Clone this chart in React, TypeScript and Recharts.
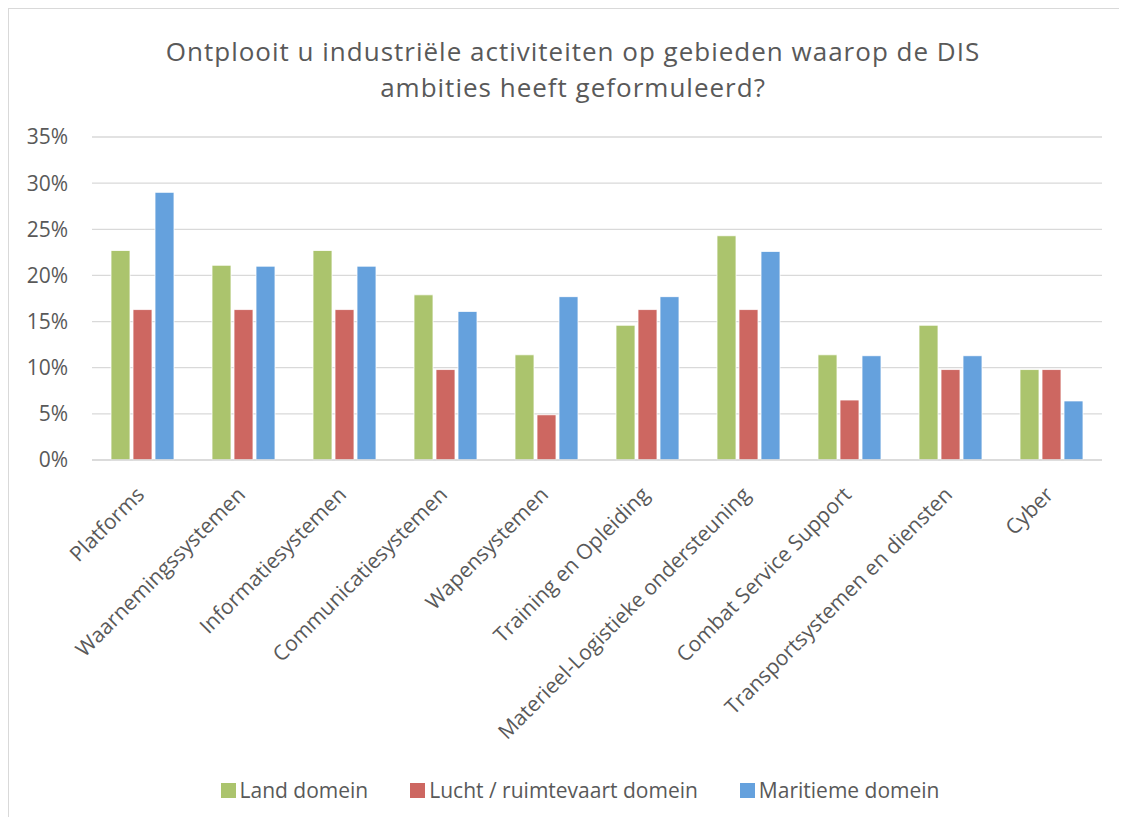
import React from 'react';
import { BarChart, Bar, XAxis, YAxis, CartesianGrid, Legend } from 'recharts';

const categories = [
  'Platforms',
  'Waarnemingssystemen',
  'Informatiesystemen',
  'Communicatiesystemen',
  'Wapensystemen',
  'Training en Opleiding',
  'Materieel-Logistieke ondersteuning',
  'Combat Service Support',
  'Transportsystemen en diensten',
  'Cyber',
];
const landDomein = [22.7, 21.1, 22.7, 17.9, 11.4, 14.6, 24.3, 11.4, 14.6, 9.8];
const luchtDomein = [16.3, 16.3, 16.3, 9.8, 4.9, 16.3, 16.3, 6.5, 9.8, 9.8];
const maritiemDomein = [29.0, 21.0, 21.0, 16.1, 17.7, 17.7, 22.6, 11.3, 11.3, 6.4];
const yTicks = [0, 5, 10, 15, 20, 25, 30, 35];

const seriesNames = ['Land domein', 'Lucht / ruimtevaart domein', 'Maritieme domein'];
const colors = ['#abc46d', '#cd6761', '#65a1dd'];

const data = categories.map((name, i) => ({
  name,
  land: landDomein[i],
  lucht: luchtDomein[i],
  maritiem: maritiemDomein[i],
}));

const FONT = '"Open Sans", "Noto Sans", sans-serif';
const TEXT = '#595959';

const XTick = ({ x, y, payload }: any) => {
  const tx = x + 3;
  const ty = y + 36;
  return (
    <text
      x={tx}
      y={ty}
      textAnchor="end"
      transform={`rotate(-45, ${tx}, ${ty})`}
      fill={TEXT}
      fontSize={21}
      fontFamily={FONT}
    >
      {payload.value}
    </text>
  );
};

const LegendContent = () => (
  <div
    style={{
      display: 'flex',
      justifyContent: 'center',
      alignItems: 'center',
      height: 26,
      paddingLeft: 49,
      fontFamily: FONT,
      fontSize: 21,
      color: TEXT,
    }}
  >
    {seriesNames.map((n, i) => (
      <div key={n} style={{ display: 'flex', alignItems: 'center', marginRight: i < 2 ? 42 : 0 }}>
        <span style={{ width: 15, height: 15, background: colors[i], marginRight: 4, display: 'inline-block' }} />
        <span>{n}</span>
      </div>
    ))}
  </div>
);

export default function App() {
  return (
    <div
      style={{
        position: 'relative',
        width: 1119,
        height: 809,
        boxSizing: 'border-box',
        borderTop: '1px solid #d9d9d9',
        borderLeft: '1px solid #d9d9d9',
        background: '#fff',
        overflow: 'hidden',
      }}
    >
      <style>{'html, body { overflow: hidden; }'}</style>
      <div
        style={{
          position: 'absolute',
          top: 24,
          left: 0,
          width: 1110,
          paddingLeft: 18,
          boxSizing: 'border-box',
          textAlign: 'center',
          fontFamily: FONT,
          fontSize: 26,
          letterSpacing: 1,
          lineHeight: '36px',
          color: TEXT,
          zIndex: 1,
        }}
      >
        Ontplooit u industriële activiteiten op gebieden waarop de DIS
        <br />
        ambities heeft geformuleerd?
      </div>
      <BarChart
        width={1118}
        height={816}
        data={data}
        margin={{ top: 128, right: 25, left: 0, bottom: 22 }}
        barCategoryGap={19}
        barGap={3}
      >
        <CartesianGrid vertical={false} stroke="#d9d9d9" strokeWidth={1.3} />
        <XAxis
          dataKey="name"
          interval={0}
          height={317}
          tickLine={false}
          tickSize={0}
          tickMargin={0}
          axisLine={{ stroke: '#d9d9d9', strokeWidth: 1.5 }}
          tick={<XTick />}
        />
        <YAxis
          width={83}
          domain={[0, 35]}
          ticks={yTicks}
          interval={0}
          tickFormatter={(v: number) => `${v}%`}
          axisLine={false}
          tickLine={false}
          tickSize={0}
          tickMargin={24}
          tick={{ fill: TEXT, fontSize: 21, fontFamily: FONT }}
        />
        <Legend verticalAlign="bottom" height={26} content={<LegendContent />} />
        <Bar dataKey="land" name={seriesNames[0]} fill={colors[0]} stroke="#ffffff" strokeWidth={0.8} isAnimationActive={false} />
        <Bar dataKey="lucht" name={seriesNames[1]} fill={colors[1]} stroke="#ffffff" strokeWidth={0.8} isAnimationActive={false} />
        <Bar dataKey="maritiem" name={seriesNames[2]} fill={colors[2]} stroke="#ffffff" strokeWidth={0.8} isAnimationActive={false} />
      </BarChart>
    </div>
  );
}
